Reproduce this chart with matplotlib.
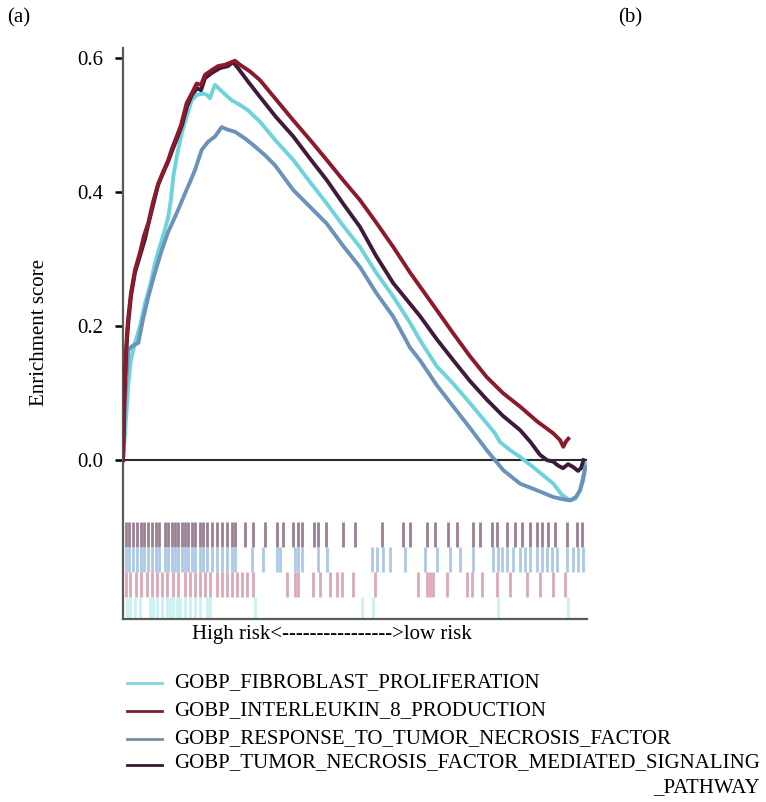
import matplotlib
matplotlib.use("Agg")
import matplotlib.pyplot as plt
from matplotlib.lines import Line2D

plt.rcParams['font.family'] = ['Liberation Serif', 'DejaVu Serif']

# Running enrichment scores along the ranked gene list (rank position, ES)
fib_rank = [0, 2, 5.3, 8, 12, 17, 22, 27, 32, 35, 38.7, 42, 45.3, 48, 50.3, 54, 58.7, 63, 68.7,
            74, 80.3, 84, 87, 90, 92, 99, 108.7, 117, 125, 137, 152, 170.3, 187, 203.7, 220, 237,
            253, 270.3, 287, 297, 313.7, 330.3, 347, 363.7, 372, 377, 387, 397, 414, 430.3, 439,
            447, 452, 457, 460, 463]
fib_es = [0.0, 0.04, 0.114, 0.15, 0.175, 0.20, 0.234, 0.26, 0.294, 0.31, 0.328, 0.345, 0.363,
          0.39, 0.423, 0.455, 0.488, 0.51, 0.537, 0.545, 0.547, 0.545, 0.540, 0.553, 0.560, 0.55,
          0.537, 0.53, 0.522, 0.505, 0.478, 0.448, 0.415, 0.383, 0.35, 0.318, 0.28, 0.244, 0.205,
          0.179, 0.14, 0.114, 0.085, 0.055, 0.04, 0.027, 0.015, 0.005, -0.015, -0.035, -0.052,
          -0.060, -0.058, -0.045, -0.025, -0.005]

il8_rank = [0, 2, 4, 5.3, 8, 12, 17, 21, 25.3, 30, 35.3, 40, 45.3, 49, 53.7, 58, 63.7, 68, 73.7,
            78, 82, 88.7, 95, 102, 108.7, 112, 117, 127, 137, 152, 170.3, 187, 203.7, 220, 237,
            253, 270.3, 287, 297, 313.7, 330.3, 347, 363.7, 380, 397, 414, 430.3, 437, 440.3,
            443, 445.3]
il8_es = [0.0, 0.12, 0.19, 0.214, 0.25, 0.284, 0.31, 0.335, 0.354, 0.385, 0.413, 0.43, 0.448,
          0.465, 0.483, 0.50, 0.533, 0.545, 0.562, 0.56, 0.575, 0.582, 0.588, 0.59, 0.594, 0.596,
          0.59, 0.58, 0.567, 0.54, 0.507, 0.478, 0.448, 0.418, 0.388, 0.355, 0.318, 0.28, 0.259,
          0.224, 0.189, 0.155, 0.124, 0.10, 0.080, 0.058, 0.040, 0.03, 0.020, 0.028, 0.032]

tnf_rank = [0, 2, 5.3, 9, 15.3, 20, 25.3, 32, 38.7, 45, 52, 57, 62, 67, 72, 78.7, 85, 92, 98.7,
            105, 112, 122, 132, 142, 152, 170.3, 187, 203.7, 220, 237, 253, 270.3, 287, 297,
            313.7, 330.3, 347, 363.7, 372, 380.3, 397, 414, 430.3, 439, 447, 453, 457, 460,
            462.5]
tnf_es = [0.0, 0.09, 0.164, 0.17, 0.175, 0.21, 0.244, 0.28, 0.313, 0.34, 0.363, 0.38, 0.398,
          0.415, 0.433, 0.463, 0.475, 0.483, 0.497, 0.493, 0.490, 0.48, 0.468, 0.455, 0.440,
          0.403, 0.378, 0.353, 0.32, 0.288, 0.25, 0.214, 0.168, 0.149, 0.112, 0.080, 0.048,
          0.015, 0.0, -0.015, -0.035, -0.045, -0.055, -0.058, -0.060, -0.055, -0.045, -0.03,
          -0.01]

tnfsig_rank = [0, 1, 3, 5, 8, 12, 17, 22, 25, 30, 35, 40, 45, 50, 54, 59, 64, 69, 74, 78, 82,
               89, 97, 105, 110, 115, 125, 137, 153, 170.3, 187, 203.7, 220, 237, 253, 270.3,
               297, 314, 330.3, 347, 364, 380, 397, 407, 417, 424, 430, 435, 440, 445, 450, 455,
               458, 460.5]
tnfsig_es = [0.0, 0.08, 0.16, 0.20, 0.245, 0.28, 0.305, 0.33, 0.35, 0.38, 0.41, 0.428, 0.445,
             0.465, 0.48, 0.50, 0.528, 0.545, 0.555, 0.552, 0.57, 0.578, 0.585, 0.588, 0.594,
             0.585, 0.565, 0.542, 0.512, 0.483, 0.45, 0.418, 0.383, 0.348, 0.305, 0.264, 0.215,
             0.18, 0.149, 0.118, 0.090, 0.066, 0.045, 0.028, 0.008, 0.0, -0.002, -0.008, -0.012,
             -0.006, -0.010, -0.016, -0.012, 0.0]

# Hit positions of gene-set members in the ranked list
tnfsig_hits = [3, 6.3, 10.3, 13.7, 17.7, 21, 25.3, 28.7, 33, 36.3, 42, 45.3, 48.7, 52, 55.3,
               58.7, 62, 65.3, 68.7, 72, 77, 80.3, 84.3, 88.7, 93.7, 98.7, 103.7, 108.7, 112,
               122, 130.3, 142, 153.7, 160.3, 170.3, 175.3, 178.7, 191.3, 195.3, 202.7, 220.3,
               232, 258.7, 280.3, 287, 303.7, 312, 325.3, 333.7, 350.3, 357, 368.7, 373.7, 383.7,
               392, 398.7, 407, 413.7, 418.7, 425.3, 432, 443.7, 453.7, 458.7]
tnf_hits = [3, 6.3, 10.3, 13.7, 17.7, 21, 25.3, 28.7, 33, 36.3, 42, 45.3, 48.7, 52, 55.3, 58.7,
            62, 65.3, 68.7, 72, 77, 80.3, 84.3, 88.7, 93.7, 98.7, 103.7, 108.7, 112, 128.7,
            140.3, 153.7, 157, 172, 175.3, 178.7, 195.3, 203.7, 248.7, 253.7, 260.3, 267, 282,
            302, 313.7, 327, 337, 350.3, 370.3, 375.3, 378.7, 383.7, 390.3, 397, 402, 407,
            413.7, 418.7, 423.7, 428.7, 433.7, 443.7, 450.3, 455.3, 460.3]
il8_hits = [3, 7, 13, 17.7, 23.7, 28.7, 33.7, 38.7, 43.7, 50.3, 55.3, 62, 67, 72, 77, 82, 87,
            93.7, 98.7, 103.7, 108.7, 113.7, 118.7, 123.7, 130.3, 163.7, 172, 175.3, 190.3,
            197, 207, 213.7, 218.7, 230.3, 252, 295.3, 303.7, 307, 310.3, 323.7, 343.7, 348.7,
            358.7, 373.7, 387, 403.7, 417, 430.3, 442]
fib_hits = [3.7, 7, 12, 17, 27, 30.3, 33.7, 38.7, 43.7, 47, 50.3, 53.7, 57, 62, 67, 72, 77,
            83.7, 87, 132, 238.7, 250, 375.3, 445.3]

labels = ["GOBP_FIBROBLAST_PROLIFERATION",
          "GOBP_INTERLEUKIN_8_PRODUCTION",
          "GOBP_RESPONSE_TO_TUMOR_NECROSIS_FACTOR",
          "GOBP_TUMOR_NECROSIS_FACTOR_MEDIATED_SIGNALING\n_PATHWAY"]
yticks = [0.0, 0.2, 0.4, 0.6]
ytick_labels = ["0.0", "0.2", "0.4", "0.6"]

c_fib = "#6fd3dc"
c_il8 = "#8c1a2c"
c_tnf = "#6a92bb"
c_sig = "#3e1b3a"

FS = 15

W, H = 766, 802
fig = plt.figure(figsize=(W / 100, H / 100), dpi=100)
ax = fig.add_axes([123 / W, 1 - 619 / H, (587 - 123) / W, (619 - 48) / H])

ax.set_xlim(0, 464)
ax.set_ylim(-0.237, 0.615)

# Rug of hits, one band per gene set
bands = [(tnfsig_hits, "#8a6a80", -0.0925, -0.1299),
         (tnf_hits, "#9ebfe2", -0.1299, -0.167),
         (il8_hits, "#d59aa8", -0.167, -0.2045),
         (fib_hits, "#c2eef3", -0.2045, -0.237)]
for hits, col, top, bot in bands:
    ax.vlines(hits, bot, top, colors=col, linewidth=2.0, alpha=0.85)

ax.axhline(0, xmin=0.005, xmax=1, color="#2a2a2a", linewidth=1.5, zorder=2)

ax.plot(fib_rank, fib_es, color=c_fib, linewidth=2.8, zorder=3)
ax.plot(tnf_rank, tnf_es, color=c_tnf, linewidth=2.8, zorder=3)
ax.plot(tnfsig_rank, tnfsig_es, color=c_sig, linewidth=2.8, zorder=4)
ax.plot(il8_rank, il8_es, color=c_il8, linewidth=2.8, zorder=4)

for side in ("top", "right"):
    ax.spines[side].set_visible(False)
ax.spines["left"].set_color("#5a5a5a")
ax.spines["left"].set_linewidth(1.6)
ax.spines["bottom"].set_color("#5a5a5a")
ax.spines["bottom"].set_linewidth(1.6)

ax.set_xticks([])
ax.set_yticks(yticks)
ax.set_yticklabels(ytick_labels)
ax.tick_params(axis="y", direction="out", length=6, width=1.8, color="black",
               labelsize=FS, pad=8)

fig.text(40 / W, 1 - 333 / H, "Enrichment score", rotation=90, ha="center", va="center",
         fontsize=FS)
fig.text(332 / W, 1 - 634 / H, "High risk<---------------->low risk", ha="center",
         va="center", fontsize=FS)
fig.text(7 / W, 1 - 18 / H, "(a)", ha="left", va="center", fontsize=FS)
fig.text(618 / W, 1 - 18 / H, "(b)", ha="left", va="center", fontsize=FS)

# Legend drawn as figure artists
leg_cols = ["#7fd6dc", "#7a1f2e", "#7090a8", "#3a1a30"]
leg_y = [683, 711, 739, 765]
for col, y, lab in zip(leg_cols, leg_y, labels):
    fig.add_artist(Line2D([127 / W, 162 / W], [1 - y / H, 1 - y / H], color=col,
                          linewidth=2.0, transform=fig.transFigure))
    if "\n" in lab:
        fig.text(174 / W, 1 - (y - 12) / H, lab, ha="left", va="top", fontsize=FS,
                 multialignment="right", linespacing=1.42)
    else:
        fig.text(174 / W, 1 - y / H, lab, ha="left", va="center", fontsize=FS)

fig.savefig("out.png", dpi=100)
